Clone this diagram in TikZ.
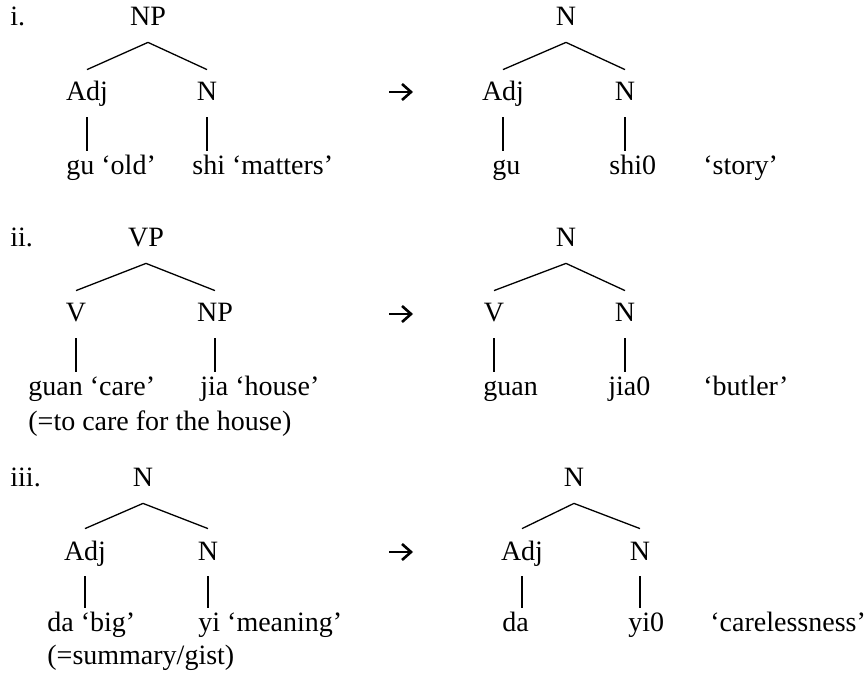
\documentclass[tikz,border=0pt]{standalone}
\usepackage{fontspec}
\setmainfont{Liberation Serif}
\usetikzlibrary{arrows.meta}
\begin{document}
\begin{tikzpicture}[x=0.5pt,y=-0.5pt,
  every node/.style={font=\fontsize{14}{17}\selectfont},
  cat/.style={anchor=base,inner sep=0pt,text height=15.5pt,text depth=8pt},
  leaf/.style={anchor=base west,inner sep=0pt,text height=12pt,text depth=0pt},
  lbl/.style={anchor=base west,inner sep=0pt},
  arrsym/.style={line width=1.3pt,-{Straight Barb[length=4.5pt,width=8pt,line width=1.3pt]}},
  br/.style={line width=0.65pt}]
\useasboundingbox (0,0) rectangle (868,678);
% ---------- i. ----------
\node[lbl] (li) at (10,26) {i.};
\node[cat] (a0) at (148,26) {NP};
\node[cat] (a1) at (87,101) {Adj};
\node[cat] (a2) at (207,101) {N};
\node[leaf] (a3) at (66,175) {gu ‘old’};
\node[leaf] (a4) at (192,175) {shi ‘matters’};
\draw[br] (a0.south) -- (a1.north);
\draw[br] (a0.south) -- (a2.north);
\draw[br] (a1.south) -- (a1.south |- a3.north);
\draw[br] (a2.south) -- (a2.south |- a4.north);
\coordinate (ar1s) at (389,92);
\coordinate (ar1e) at (413,92);
\draw[arrsym] (ar1s) -- (ar1e);
\node[cat] (b0) at (566,26) {N};
\node[cat] (b1) at (503,101) {Adj};
\node[cat] (b2) at (625,101) {N};
\node[leaf] (b3) at (492,175) {gu};
\node[leaf] (b4) at (609,175) {shi0};
\node[leaf] (b5) at (703,175) {‘story’};
\draw[br] (b0.south) -- (b1.north);
\draw[br] (b0.south) -- (b2.north);
\draw[br] (b1.south) -- (b1.south |- b3.north);
\draw[br] (b2.south) -- (b2.south |- b4.north);
% ---------- ii. ----------
\node[lbl] (lii) at (10,247) {ii.};
\node[cat] (c0) at (146,247) {VP};
\node[cat] (c1) at (76,322) {V};
\node[cat] (c2) at (215,322) {NP};
\node[leaf] (c3) at (28,396) {guan ‘care’};
\node[leaf] (c4) at (200,396) {jia ‘house’};
\node[lbl] (c5) at (28,431) {(=to care for the house)};
\draw[br] (c0.south) -- (c1.north);
\draw[br] (c0.south) -- (c2.north);
\draw[br] (c1.south) -- (c1.south |- c3.north);
\draw[br] (c2.south) -- (c2.south |- c4.north);
\coordinate (ar2s) at (389,314);
\coordinate (ar2e) at (413,314);
\draw[arrsym] (ar2s) -- (ar2e);
\node[cat] (d0) at (566,247) {N};
\node[cat] (d1) at (494,322) {V};
\node[cat] (d2) at (625,322) {N};
\node[leaf] (d3) at (483,396) {guan};
\node[leaf] (d4) at (608,396) {jia0};
\node[leaf] (d5) at (703,396) {‘butler’};
\draw[br] (d0.south) -- (d1.north);
\draw[br] (d0.south) -- (d2.north);
\draw[br] (d1.south) -- (d1.south |- d3.north);
\draw[br] (d2.south) -- (d2.south |- d4.north);
% ---------- iii. ----------
\node[lbl] (liii) at (10,487) {iii.};
\node[cat] (e0) at (143,487) {N};
\node[cat] (e1) at (85,560) {Adj};
\node[cat] (e2) at (208,560) {N};
\node[leaf] (e3) at (47,632) {da ‘big’};
\node[leaf] (e4) at (198,632) {yi ‘meaning’};
\node[lbl] (e5) at (47,664) {(=summary/gist)};
\draw[br] (e0.south) -- (e1.north);
\draw[br] (e0.south) -- (e2.north);
\draw[br] (e1.south) -- (e1.south |- e3.north);
\draw[br] (e2.south) -- (e2.south |- e4.north);
\coordinate (ar3s) at (389,552);
\coordinate (ar3e) at (413,552);
\draw[arrsym] (ar3s) -- (ar3e);
\node[cat] (f0) at (574,487) {N};
\node[cat] (f1) at (522,560) {Adj};
\node[cat] (f2) at (640,560) {N};
\node[leaf] (f3) at (502,632) {da};
\node[leaf] (f4) at (628,632) {yi0};
\node[leaf] (f5) at (710,632) {‘carelessness’};
\draw[br] (f0.south) -- (f1.north);
\draw[br] (f0.south) -- (f2.north);
\draw[br] (f1.south) -- (f1.south |- f3.north);
\draw[br] (f2.south) -- (f2.south |- f4.north);
\end{tikzpicture}
\end{document}
